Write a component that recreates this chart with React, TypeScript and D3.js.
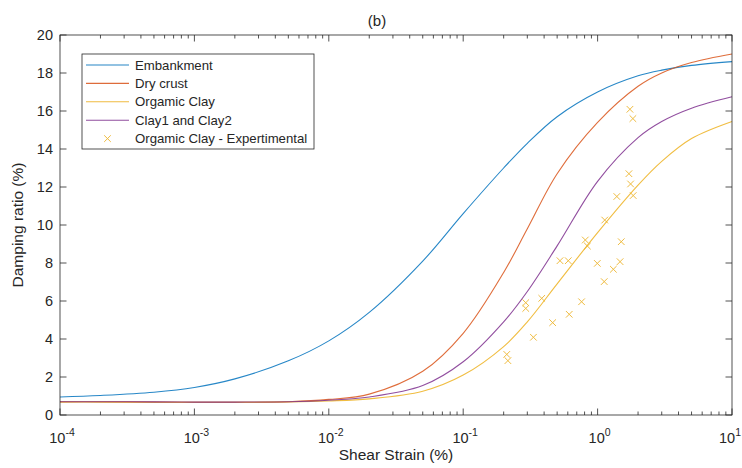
import React from 'react';
import * as d3 from 'd3';

const W = 742;
const H = 468;
const margin = { top: 35, right: 10, bottom: 53, left: 60 };

const strain = [1e-4, 2e-4, 5e-4, 1e-3, 2e-3, 5e-3, 1e-2, 2e-2, 5e-2, 1e-1, 2e-1, 3e-1, 5e-1, 1, 2, 3, 5, 10];

const embankment = [0.95, 1.03, 1.2, 1.45, 1.9, 2.85, 3.9, 5.4, 8.1, 10.6, 13.0, 14.3, 15.7, 17.0, 17.85, 18.15, 18.4, 18.6];
const dryCrust = [0.7, 0.7, 0.68, 0.67, 0.67, 0.7, 0.82, 1.1, 2.3, 4.3, 7.5, 9.8, 12.7, 15.4, 17.3, 18.0, 18.55, 19.0];
const orgamicClay = [0.68, 0.68, 0.67, 0.67, 0.67, 0.69, 0.74, 0.85, 1.25, 2.1, 3.6, 4.9, 6.9, 9.6, 12.1, 13.35, 14.55, 15.45];
const clay12 = [0.7, 0.7, 0.69, 0.68, 0.68, 0.7, 0.78, 0.95, 1.55, 2.8, 4.9, 6.5, 8.9, 12.3, 14.6, 15.45, 16.15, 16.75];

// Orgamic Clay - experimental points
const expStrain = [1.74, 1.83, 1.71, 1.76, 1.39, 1.84, 1.13, 0.81, 0.84, 1.5, 0.525, 0.605, 0.995, 1.31, 1.47, 1.12, 0.292, 0.292, 0.384, 0.76, 0.615, 0.463, 0.333, 0.211, 0.215];
const expDamping = [16.09, 15.6, 12.7, 12.16, 11.5, 11.55, 10.26, 9.21, 8.89, 9.12, 8.12, 8.12, 7.98, 7.67, 8.07, 7.02, 5.91, 5.61, 6.14, 5.96, 5.3, 4.86, 4.09, 3.19, 2.86];

const seriesNames = ['Embankment', 'Dry crust', 'Orgamic Clay', 'Clay1 and Clay2'];
const seriesColors = ['#0072BD', '#D95319', '#EDB120', '#7E2F8E'];
const seriesValues = [embankment, dryCrust, orgamicClay, clay12];
const expLabel = 'Orgamic Clay - Expertimental';

const xExponents = [-4, -3, -2, -1, 0, 1];
const yTicks = [0, 2, 4, 6, 8, 10, 12, 14, 16, 18, 20];

const font = 'Arial, "Liberation Sans", sans-serif';
const axisColor = '#262626';

export default function App() {
  const x = d3.scaleLog().domain([1e-4, 10]).range([margin.left, W - margin.right]);
  const y = d3.scaleLinear().domain([0, 20]).range([H - margin.bottom, margin.top]);

  const line = d3
    .line<[number, number]>()
    .x((d) => x(d[0]))
    .y((d) => y(d[1]))
    .curve(d3.curveCatmullRom.alpha(0.5));

  const x0 = margin.left;
  const x1 = W - margin.right;
  const y0 = H - margin.bottom;
  const y1 = margin.top;

  // major and minor log ticks
  const minor: number[] = [];
  xExponents.slice(0, -1).forEach((e) => {
    for (let k = 2; k <= 9; k++) minor.push(k * Math.pow(10, e));
  });
  const major = xExponents.map((e) => Math.pow(10, e));

  const cross = (cx: number, cy: number, s: number) =>
    `M${cx - s},${cy - s}L${cx + s},${cy + s}M${cx - s},${cy + s}L${cx + s},${cy - s}`;

  const legend = { x: 82, y: 54, w: 232, h: 95, row: 18.4 };

  return (
    <div style={{ position: 'fixed', left: 0, top: 0 }}>
      <svg width={W} height={H} style={{ display: 'block', background: '#fff' }} fontFamily={font}>
        <rect width={W} height={H} fill="#fff" />

        {/* curves */}
        <g fill="none" strokeWidth={1.1}>
          {seriesValues.map((vals, i) => (
            <path
              key={seriesNames[i]}
              d={line(strain.map((s, j) => [s, vals[j]] as [number, number])) || ''}
              stroke={seriesColors[i]}
              opacity={0.85}
            />
          ))}
        </g>

        {/* experimental points */}
        <g stroke="#EDB120" strokeWidth={1} fill="none" opacity={0.85}>
          {expStrain.map((s, i) => (
            <path key={i} d={cross(x(s), y(expDamping[i]), 3.3)} />
          ))}
        </g>

        {/* box and ticks */}
        <g stroke={axisColor} strokeWidth={0.8} fill="none">
          <rect x={x0} y={y1} width={x1 - x0} height={y0 - y1} />
          {major.map((v) => (
            <g key={'M' + v}>
              <line x1={x(v)} x2={x(v)} y1={y0} y2={y0 - 6.5} />
              <line x1={x(v)} x2={x(v)} y1={y1} y2={y1 + 6.5} />
            </g>
          ))}
          {minor.map((v) => (
            <g key={'m' + v}>
              <line x1={x(v)} x2={x(v)} y1={y0} y2={y0 - 3.5} />
              <line x1={x(v)} x2={x(v)} y1={y1} y2={y1 + 3.5} />
            </g>
          ))}
          {yTicks.map((t) => (
            <g key={'y' + t}>
              <line x1={x0} x2={x0 + 6.5} y1={y(t)} y2={y(t)} />
              <line x1={x1} x2={x1 - 6.5} y1={y(t)} y2={y(t)} />
            </g>
          ))}
        </g>

        {/* tick labels */}
        <g fill={axisColor} fontSize={14.5}>
          {yTicks.map((t) => (
            <text key={'yl' + t} x={x0 - 7} y={y(t)} dy="0.35em" textAnchor="end">
              {t}
            </text>
          ))}
          {xExponents.map((e, i) => {
            const last = i === xExponents.length - 1;
            return (
              <text
                key={'xl' + e}
                x={last ? W - 1 : x(Math.pow(10, e)) + 2}
                y={y0 + 28}
                textAnchor={last ? 'end' : 'middle'}
              >
                10
                <tspan fontSize={10.5} dy={-7}>
                  {e}
                </tspan>
              </text>
            );
          })}
        </g>

        {/* axis labels and title */}
        <text x={(x0 + x1) / 2} y={y0 + 45} textAnchor="middle" fontSize={15.5} fill={axisColor}>
          Shear Strain (%)
        </text>
        <text
          transform={`translate(23,${(y0 + y1) / 2}) rotate(-90)`}
          textAnchor="middle"
          fontSize={15.5}
          fill={axisColor}
        >
          Damping ratio (%)
        </text>
        <text x={377} y={26} textAnchor="middle" fontSize={15} fill={axisColor}>
          (b)
        </text>

        {/* legend */}
        <g>
          <rect x={legend.x} y={legend.y} width={legend.w} height={legend.h} fill="#fff" stroke={axisColor} strokeWidth={0.8} />
          {seriesNames.map((n, i) => {
            const ly = legend.y + 11 + i * legend.row;
            return (
              <g key={n}>
                <line x1={legend.x + 4} x2={legend.x + 47} y1={ly} y2={ly} stroke={seriesColors[i]} strokeWidth={1.1} opacity={0.85} />
                <text x={legend.x + 53} y={ly} dy="0.35em" fontSize={13.2} fill={axisColor}>
                  {n}
                </text>
              </g>
            );
          })}
          {(() => {
            const ly = legend.y + 11 + 4 * legend.row;
            return (
              <g>
                <path d={cross(legend.x + 25.5, ly, 3.3)} stroke="#EDB120" strokeWidth={1} opacity={0.85} />
                <text x={legend.x + 53} y={ly} dy="0.35em" fontSize={13.2} fill={axisColor}>
                  {expLabel}
                </text>
              </g>
            );
          })()}
        </g>
      </svg>
    </div>
  );
}
